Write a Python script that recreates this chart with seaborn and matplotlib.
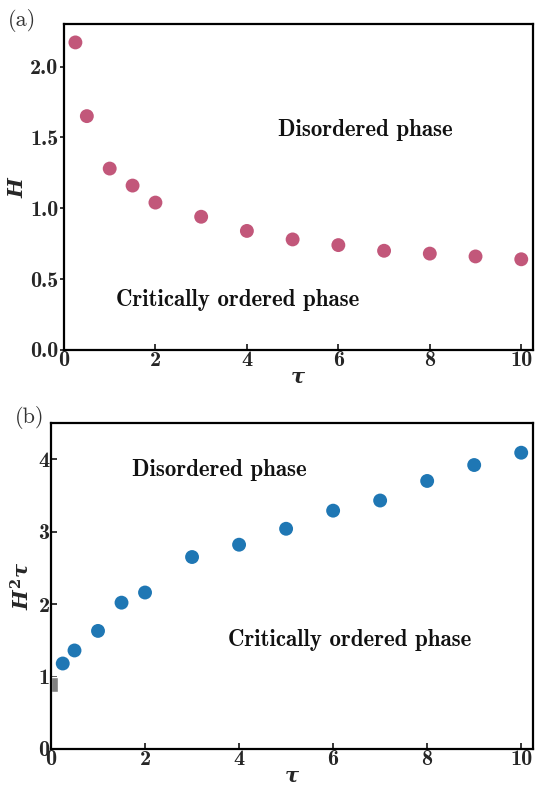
import matplotlib
matplotlib.use("Agg")
import matplotlib.pyplot as plt
import seaborn as sns
import pandas as pd

tau = [0.25, 0.5, 1, 1.5, 2, 3, 4, 5, 6, 7, 8, 9, 10]
H = [2.17, 1.65, 1.28, 1.16, 1.04, 0.94, 0.84, 0.78, 0.74, 0.70, 0.68, 0.66, 0.64]
H2tau = [1.18, 1.36, 1.63, 2.02, 2.16, 2.65, 2.82, 3.04, 3.29, 3.43, 3.70, 3.92, 4.09]
gray_box_x = [0.075]
gray_box_low = [0.79]
gray_box_high = [1.0]

sns.set_style("ticks")
plt.rcParams["font.family"] = ["cmr10", "DejaVu Serif"]
plt.rcParams["axes.unicode_minus"] = False
plt.rcParams["mathtext.fontset"] = "custom"
plt.rcParams["mathtext.it"] = "DejaVu Serif:italic:bold"
plt.rcParams["mathtext.rm"] = "DejaVu Serif:bold"

df = pd.DataFrame({"tau": tau, "H": H, "H2tau": H2tau})

fig = plt.figure(figsize=(5.39, 7.87), dpi=100)
ax1 = fig.add_axes([0.1187, 0.5553, 0.8696, 0.4142])
ax2 = fig.add_axes([0.0946, 0.0483, 0.8942, 0.4142])

sns.scatterplot(data=df, x="tau", y="H", ax=ax1, color="#c2577a", s=100,
                edgecolor="none", linewidth=0, zorder=3)
sns.scatterplot(data=df, x="tau", y="H2tau", ax=ax2, color="#1f77b4", s=100,
                edgecolor="none", linewidth=0, zorder=3)
ax2.bar(gray_box_x, [h - l for h, l in zip(gray_box_high, gray_box_low)],
        bottom=gray_box_low, width=0.16, color="#808080", zorder=2)

ax1.set_xlim(0, 10.25)
ax1.set_ylim(0, 2.3)
ax2.set_xlim(0, 10.25)
ax2.set_ylim(0, 4.5)
ax1.set_xticks([0, 2, 4, 6, 8, 10])
ax1.set_yticks([0.0, 0.5, 1.0, 1.5, 2.0])
ax1.set_yticklabels(["0.0", "0.5", "1.0", "1.5", "2.0"])
ax2.set_xticks([0, 2, 4, 6, 8, 10])
ax2.set_yticks([0, 1, 2, 3, 4])

for ax in (ax1, ax2):
    for sp in ax.spines.values():
        sp.set_linewidth(1.6)
        sp.set_color("black")
    ax.tick_params(axis="x", direction="in", length=4.5, width=1.3, pad=1)
    for lab in ax.get_xticklabels() + ax.get_yticklabels():
        lab.set_fontfamily("cmb10")
        lab.set_fontsize(16)
ax1.tick_params(axis="y", direction="out", length=3, width=1.3, pad=1)
ax2.tick_params(axis="y", direction="in", length=4.5, width=1.3, pad=1)

ax1.set_xlabel(r"$\tau$", fontsize=15, labelpad=-1)
ax1.set_ylabel(r"$H$", fontsize=15, labelpad=2)
ax2.set_xlabel(r"$\tau$", fontsize=15, labelpad=-1)
ax2.set_ylabel(r"$H^2\tau$", fontsize=15, labelpad=4)

kw = dict(fontsize=16.5, ha="center", va="center", family="cmb10", color="#111111")
ax1.text(6.58, 1.55, "Disordered phase", **kw)
ax1.text(3.8, 0.35, "Critically ordered phase", **kw)
ax2.text(3.59, 3.85, "Disordered phase", **kw)
ax2.text(6.35, 1.51, "Critically ordered phase", **kw)

fig.text(8 / 539, 1 - 20 / 787, "(a)", fontsize=16, family="cmr10", color="#333333",
         ha="left", va="center")
fig.text(15 / 539, 1 - 418 / 787, "(b)", fontsize=16, family="cmr10", color="#333333",
         ha="left", va="center")

fig.savefig("out.png", dpi=100)
